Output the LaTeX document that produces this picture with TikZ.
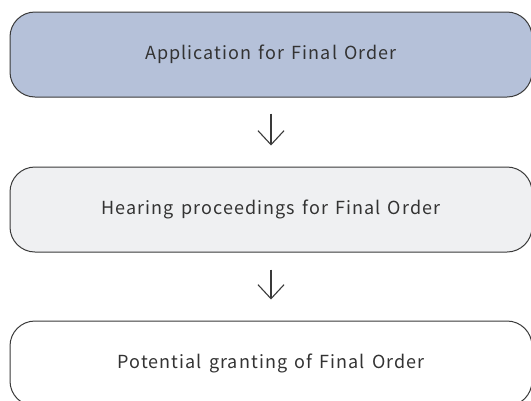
\documentclass[tikz,border=0pt]{standalone}
\usepackage{fontspec}
\setmainfont[LetterSpace=6,WordSpace=1.4]{Noto Sans CJK JP}
\usetikzlibrary{arrows.meta}
\definecolor{boxline}{HTML}{3A3A3A}
\definecolor{txt}{HTML}{333333}
\definecolor{fillA}{HTML}{B5C1D9}
\definecolor{fillB}{HTML}{EFF0F2}
\tikzset{
  stepbox/.style={draw=boxline, line width=1pt, rounded corners=25pt,
    minimum width=522pt, minimum height=85pt, inner sep=0pt,
    text=txt, font=\fontsize{18}{21}\selectfont},
  flow/.style={draw=boxline, line width=1.1pt,
    -{Straight Barb[length=14pt,width=26pt,line width=1.1pt]}}
}
\begin{document}
\begin{tikzpicture}[x=1pt,y=-1pt]
\useasboundingbox (0,0) rectangle (531,400);
\fill[white] (0,0) rectangle (531,400);
\node[stepbox, fill=fillA] (a) at (271,54.5) {Application for Final Order};
\node[stepbox, fill=fillB] (b) at (271,209.5) {Hearing proceedings for Final Order};
\node[stepbox, fill=white] (c) at (271,363.5) {Potential granting of Final Order};
\draw[flow, shorten <=16pt, shorten >=21pt] (a.south) -- (b.north);
\draw[flow, shorten <=17pt, shorten >=21pt] (b.south) -- (c.north);
\end{tikzpicture}
\end{document}
